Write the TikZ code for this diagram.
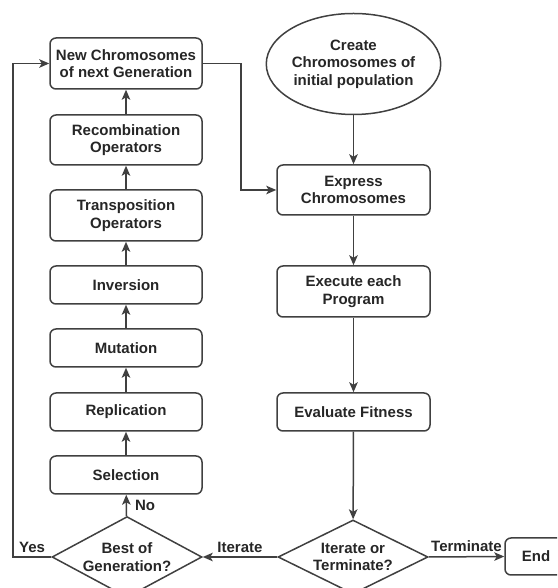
\documentclass[tikz,border=0pt]{standalone}
\usepackage{fontspec}
\setmainfont{Liberation Sans}
\usetikzlibrary{shapes.geometric,arrows.meta}

\begin{document}
\begin{tikzpicture}[>={Stealth[length=10pt,width=8.5pt,inset=2.5pt]},x=1pt,y=1pt,
    every node/.style={font=\fontsize{15}{17.5}\selectfont\bfseries,text=black!85},
    box/.style={draw=black!75,line width=1.5pt,rounded corners=6pt,align=center,minimum width=152pt,inner sep=0pt},
    oval/.style={draw=black!75,line width=1.5pt,ellipse,align=center,minimum width=153pt,minimum height=101pt,inner sep=0pt},
    decision/.style={draw=black!75,line width=1.5pt,diamond,align=center,minimum width=150pt,minimum height=74pt,inner sep=-9pt},
    link/.style={->,draw=black!75,line width=1.5pt}]
  \clip (0,0) rectangle (557,588);
  % left column
  \node[box,minimum height=51pt] (new) at (126,524.5) {New Chromosomes\\of next Generation};
  \node[box,minimum height=50pt] (recomb) at (126,448) {Recombination\\Operators};
  \node[box,minimum height=51pt] (transp) at (126,372.5) {Transposition\\Operators};
  \node[box,minimum height=38pt] (inv) at (126,303) {Inversion};
  \node[box,minimum height=38pt] (mut) at (126,240) {Mutation};
  \node[box,minimum height=38pt] (repl) at (126,176) {Replication};
  \node[box,minimum height=38pt] (sel) at (126,113) {Selection};
  \node[decision] (best) at (127,31) {Best of\\Generation?};
  % right column
  \node[oval] (create) at (353.5,524) {Create\\Chromosomes of\\initial population};
  \node[box,minimum width=153pt,minimum height=50pt] (express) at (353.5,398) {Express\\Chromosomes};
  \node[box,minimum width=153pt,minimum height=51pt] (exec) at (353.5,296.5) {Execute each\\Program};
  \node[box,minimum width=153pt,minimum height=38pt] (eval) at (353.5,176) {Evaluate Fitness};
  \node[decision] (iter) at (353,31) {Iterate or\\Terminate?};
  \node[box,minimum width=62pt,minimum height=37pt] (end) at (536,31.5) {End};
  \coordinate (yesturn) at (13,31);

  \draw[link] (sel) -- (repl);
  \draw[link] (repl) -- (mut);
  \draw[link] (mut) -- (inv);
  \draw[link] (inv) -- (transp);
  \draw[link] (transp) -- (recomb);
  \draw[link] (recomb) -- (new);
  \draw[link] (best) -- node[right,inner sep=8pt] {No} (sel);
  \draw[link] (best.west) -- node[above,inner sep=4pt] {Yes} (yesturn) |- (new.west);
  \draw[link] (new.east) -- ++(38,0) |- (express.west);
  \draw[link] (create) -- (express);
  \draw[link] (express) -- (exec);
  \draw[link] (exec) -- (eval);
  \draw[link] (eval) -- (iter);
  \draw[link] (iter.west) -- node[above,inner sep=4pt] {Iterate} (best.east);
  \draw[link] (iter.east) -- node[above,inner sep=4pt] {Terminate} (end.west);
\end{tikzpicture}
\end{document}
